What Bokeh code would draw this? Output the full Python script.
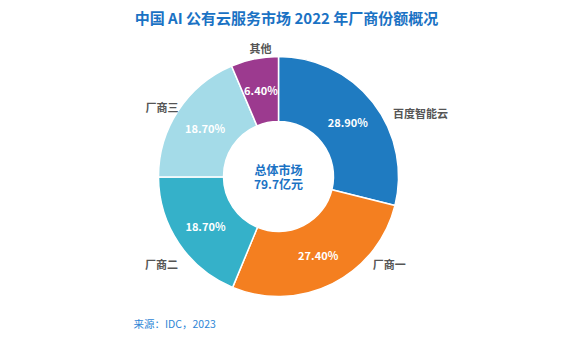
import math
from bokeh.plotting import figure
from bokeh.models import ColumnDataSource
from bokeh.core.properties import value
from bokeh.embed import file_html
from bokeh.resources import INLINE

# ---- data ----
vendors = ["百度智能云", "厂商一", "厂商二", "厂商三", "其他"]
shares = [28.9, 27.4, 18.7, 18.7, 6.4]
colors = ["#1f7bc1", "#f47f20", "#35b1c9", "#a4dbe8", "#9c3a8f"]
title_text = "中国 AI 公有云服务市场 2022 年厂商份额概况"
center_lines = ["总体市场", "79.7亿元"]
source_text = "来源：IDC，2023"

FONT = value("Noto Sans CJK SC")
W, H = 560, 340
p = figure(width=W, height=H, x_range=(0, W), y_range=(0, H),
           output_backend="svg", toolbar_location=None,
           x_axis_location=None, y_axis_location=None, min_border=0)
p.grid.visible = False
p.outline_line_color = None
p.background_fill_color = "white"

cx, cy = 278, 164
r_out, r_in = 120, 55

total = sum(shares)
starts, ends, mids = [], [], []
a = math.pi / 2
for s in shares:
    span = s / total * 2 * math.pi
    starts.append(a)
    ends.append(a - span)
    mids.append(a - span / 2)
    a -= span

src = ColumnDataSource(dict(x=[cx] * len(shares), y=[cy] * len(shares),
                            start=starts, end=ends, color=colors))
p.annular_wedge(x="x", y="y", inner_radius=r_in, outer_radius=r_out,
                start_angle="end", end_angle="start", direction="anticlock",
                fill_color="color", line_color="white", line_width=1.5, source=src)

# percent labels inside ring
r_mid = (r_in + r_out) / 2 + 0.5
px = [cx + r_mid * math.cos(m) for m in mids]
py = [cy + r_mid * math.sin(m) for m in mids]
p.text(x=px, y=py, text=[f"{s:.2f}%" for s in shares], text_color="white",
       text_font=FONT, text_font_size="11px", text_font_style="bold",
       text_align="center", text_baseline="middle")

# outside labels (layout angle/radius per label)
lab_ang = [29, -43, 221, 145, 98]
lab_rad = [131, 129, 133, 122, 130]
lab_align = ["left", "left", "right", "right", "center"]
for name, ang, rr, al in zip(vendors, lab_ang, lab_rad, lab_align):
    t = math.radians(ang)
    p.text(x=[cx + rr * math.cos(t)], y=[cy + rr * math.sin(t)], text=[name],
           text_color="#555555", text_font=FONT, text_font_size="11px",
           text_font_style="bold", text_align=al, text_baseline="middle")

# center text
p.text(x=[cx, cx], y=[cy + 7, cy - 7], text=center_lines, text_color="#1a72c4",
       text_font=FONT, text_font_size="12px", text_font_style="bold",
       text_align="center", text_baseline="middle")

# title
p.text(x=[286], y=[H - 17], text=[title_text], text_color="#1a72c4",
       text_font=FONT, text_font_size="15px", text_font_style="bold",
       text_align="center", text_baseline="middle")

# source
p.text(x=[133], y=[H - 323], text=[source_text], text_color="#2f86d6",
       text_font=FONT, text_font_size="10.5px",
       text_align="left", text_baseline="middle")

open("out.html", "w").write(file_html(p, INLINE))
